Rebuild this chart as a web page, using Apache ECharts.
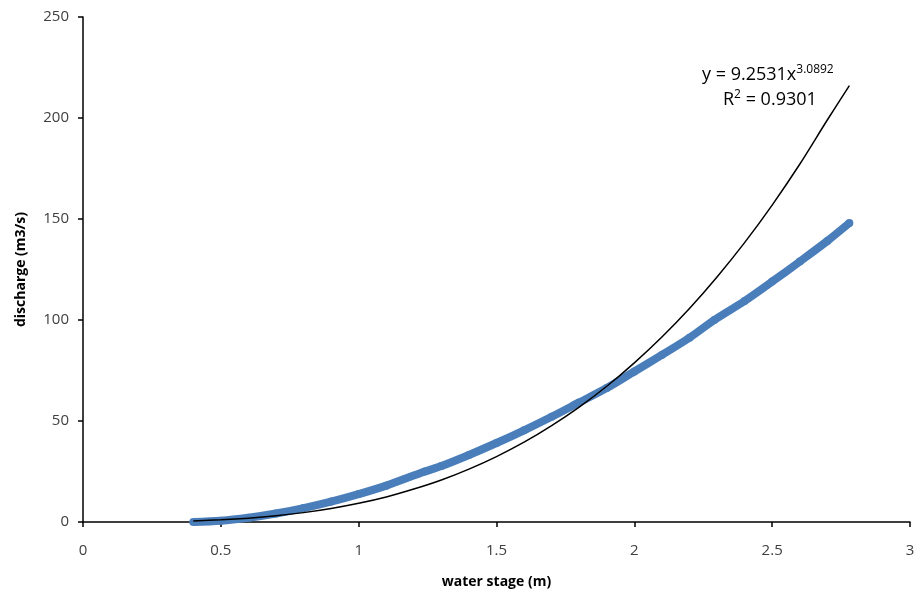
<!DOCTYPE html>
<html>
<head>
<meta charset="utf-8">
<script src="https://cdn.jsdelivr.net/npm/echarts@6/dist/echarts.min.js"></script>
<style>html,body{margin:0;padding:0;background:#fff}#c{width:918px;height:593px}</style>
</head>
<body>
<div id="c"></div>
<script>
// observed stage (m) and discharge (m3/s)
var stage = [0.40, 0.50, 0.60, 0.70, 0.80, 0.90, 1.00, 1.10, 1.24, 1.30, 1.40, 1.50, 1.60, 1.70, 1.80, 1.90, 2.00, 2.10, 2.20, 2.29, 2.40, 2.50, 2.60, 2.70, 2.78];
var discharge = [0, 0.6, 2.1, 4.2, 6.9, 10.1, 13.8, 18.0, 25.0, 27.7, 33.2, 39.1, 45.4, 52.1, 59.2, 66.3, 74.5, 82.7, 91.2, 100, 109.4, 119, 128.9, 139.1, 148];
// power trendline
var trendX = [0.40, 0.50, 0.60, 0.70, 0.80, 0.90, 1.00, 1.10, 1.20, 1.30, 1.40, 1.50, 1.60, 1.70, 1.80, 1.90, 2.00, 2.10, 2.20, 2.30, 2.40, 2.50, 2.60, 2.70, 2.78];
var trendY = [0.55, 1.09, 1.91, 3.08, 4.64, 6.68, 9.25, 12.4, 16.3, 20.8, 26.2, 32.4, 39.5, 47.7, 56.9, 67.2, 78.8, 91.6, 105.7, 121.3, 138.3, 156.9, 177.1, 199.0, 216];
var xTicks = [0, 0.5, 1, 1.5, 2, 2.5, 3];
var yTicks = [0, 50, 100, 150, 200, 250];
var eqText = ['y = 9.2531x', '3.0892', 'R', '2', ' = 0.9301'];

var obs = stage.map(function (s, i) { return [s, discharge[i]]; });
var trend = trendX.map(function (s, i) { return [s, trendY[i]]; });

var FONT = 'Open Sans, Liberation Sans, sans-serif';
var chart = echarts.init(document.getElementById('c'));
var lbl = { color: '#404040', fontSize: 15, fontFamily: FONT };
chart.setOption({
  animation: false,
  backgroundColor: '#fff',
  grid: { left: 83, width: 827, top: 17, height: 505, outerBoundsMode: 'none', containLabel: false },
  xAxis: {
    type: 'value', min: xTicks[0], max: xTicks[xTicks.length - 1], interval: 0.5,
    name: 'water stage (m)', nameLocation: 'middle', nameGap: 53,
    nameTextStyle: { fontWeight: 'bold', fontSize: 14, color: '#000', fontFamily: FONT },
    axisLine: { lineStyle: { color: '#000', width: 1.5 } },
    axisTick: { inside: false, length: 5, lineStyle: { color: '#000', width: 1.5 } },
    axisLabel: Object.assign({ margin: 21 }, lbl),
    splitLine: { show: false }
  },
  yAxis: {
    type: 'value', min: yTicks[0], max: yTicks[yTicks.length - 1], interval: 50,
    name: 'discharge (m3/s)', nameLocation: 'middle', nameGap: 55, nameRotate: 90,
    nameTextStyle: { fontWeight: 'bold', fontSize: 14, color: '#000', fontFamily: FONT },
    axisLine: { show: true, lineStyle: { color: '#000', width: 1.5 } },
    axisTick: { show: true, inside: false, length: 5, lineStyle: { color: '#000', width: 1.5 } },
    axisLabel: Object.assign({ margin: 14 }, lbl),
    splitLine: { show: false }
  },
  series: [
    {
      type: 'line', data: obs, smooth: 0.3,
      showSymbol: true, symbol: 'circle', symbolSize: 8,
      itemStyle: { color: '#4a7ebb' },
      lineStyle: { color: '#4a7ebb', width: 8 },
      z: 2
    },
    {
      type: 'line', data: trend, smooth: 0.3, showSymbol: false,
      lineStyle: { color: '#000', width: 1.5 },
      z: 3
    }
  ],
  graphic: [{
    type: 'text', left: 702, top: 64,
    style: {
      text: '{a|' + eqText[0] + '}{s|' + eqText[1] + '}\n{r|' + eqText[2] + '}{s|' + eqText[3] + '}{a|' + eqText[4] + '}',
      rich: {
        a: { fontSize: 18, color: '#000', fontFamily: FONT, lineHeight: 25, verticalAlign: 'bottom' },
        r: { fontSize: 18, color: '#000', fontFamily: FONT, lineHeight: 25, verticalAlign: 'bottom', padding: [0, 0, 0, 21] },
        s: { fontSize: 12, color: '#000', fontFamily: FONT, padding: [0, 0, 8, 0], verticalAlign: 'bottom' }
      }
    }
  }]
});
</script>
</body>
</html>
